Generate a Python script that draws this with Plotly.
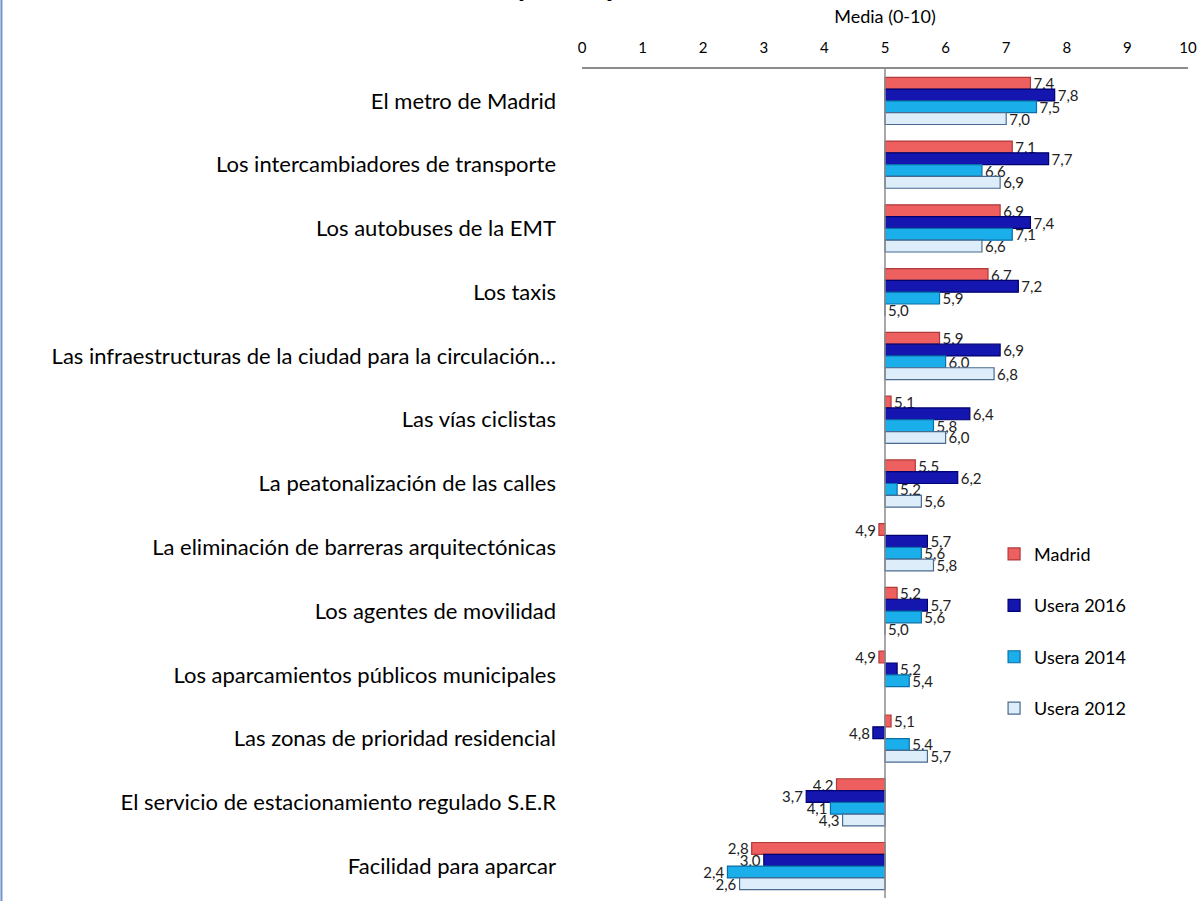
import plotly.graph_objects as go

# categories, top to bottom
categories = [
    "El metro de Madrid",
    "Los intercambiadores de transporte",
    "Los autobuses de la EMT",
    "Los taxis",
    "Las infraestructuras de la ciudad para la circulación…",
    "Las vías ciclistas",
    "La peatonalización de las calles",
    "La eliminación de barreras arquitectónicas",
    "Los agentes de movilidad",
    "Los aparcamientos públicos municipales",
    "Las zonas de prioridad residencial",
    "El servicio de estacionamiento regulado S.E.R",
    "Facilidad para aparcar",
]

madrid = [7.4, 7.1, 6.9, 6.7, 5.9, 5.1, 5.5, 4.9, 5.2, 4.9, 5.1, 4.2, 2.8]
usera_2016 = [7.8, 7.7, 7.4, 7.2, 6.9, 6.4, 6.2, 5.7, 5.7, 5.2, 4.8, 3.7, 3.0]
usera_2014 = [7.5, 6.6, 7.1, 5.9, 6.0, 5.8, 5.2, 5.6, 5.6, 5.4, 5.4, 4.1, 2.4]
usera_2012 = [7.0, 6.9, 6.6, 5.0, 6.8, 6.0, 5.6, 5.8, 5.0, None, 5.7, 4.3, 2.6]

x_ticks = list(range(0, 11))
BASE = 5

series = [
    ("Madrid", madrid, "#EE5F5F", "#B03A3A"),
    ("Usera 2016", usera_2016, "#1515B0", "#00006E"),
    ("Usera 2014", usera_2014, "#1AAEEA", "#0A6EA8"),
    ("Usera 2012", usera_2012, "#DDEEFA", "#4A6A90"),
]

FONT = "Lato"


def fmt(v):
    return "" if v is None else f"{v:.1f}".replace(".", ",")


fig = go.Figure()
for name, vals, fill, edge in series:
    fig.add_trace(go.Bar(
        y=categories,
        x=[None if v is None else v - BASE for v in vals],
        base=BASE,
        orientation="h",
        name=name,
        legendgroup=name,
        marker=dict(color=fill, line=dict(color=edge, width=1.2)),
        text=[fmt(v) for v in vals],
        textposition="outside",
        constraintext="none",
        cliponaxis=False,
        textfont=dict(family=FONT, size=15, color="#222"),
        hoverinfo="skip",
    ))

# vertical reference line at 5
fig.add_shape(type="line", xref="x", yref="paper", x0=BASE, x1=BASE, y0=0, y1=1,
              line=dict(color="#8C8C8C", width=1.5), layer="above")
# left frame edge
fig.add_shape(type="line", xref="paper", yref="paper", x0=-0.958, x1=-0.958, y0=-0.01, y1=1.1,
              line=dict(color="#6F93C9", width=2))

# title mostly cut off above the page
fig.add_annotation(text="<b>Movilidad y transporte</b>", xref="paper", yref="paper",
                   x=-0.09, y=1.078, xanchor="center", yanchor="bottom", showarrow=False,
                   font=dict(family=FONT, size=30, color="black"))

fig.update_layout(
    width=1203, height=901,
    margin=dict(l=582, r=15, t=69, b=3),
    paper_bgcolor="white", plot_bgcolor="white",
    barmode="group", bargap=0.26, bargroupgap=0,
    font=dict(family=FONT, color="black"),
    legend=dict(x=0.68, y=0.437, xanchor="left", yanchor="top",
                traceorder="grouped", tracegroupgap=25,
                font=dict(family=FONT, size=18), itemwidth=30,
                bgcolor="rgba(0,0,0,0)"),
    xaxis=dict(side="top", range=[0, 10], tickvals=x_ticks,
               ticktext=[str(t) for t in x_ticks], showgrid=False, zeroline=False,
               showline=True, linecolor="#8C8C8C", linewidth=1.5, ticks="",
               tickfont=dict(family=FONT, size=15), ticklabelstandoff=8,
               title=dict(text="Media (0-10)", font=dict(family=FONT, size=18), standoff=10)),
    yaxis=dict(type="category", range=[12.5, -0.5], showgrid=False, zeroline=False,
               showline=False, ticks="", tickfont=dict(family=FONT, size=22),
               ticklabelstandoff=25),
)

# drop the default page margin so the figure sits at the window corner
fig.write_html("out.html", config={"displayModeBar": False},
               post_script="document.body.style.margin='0';")
